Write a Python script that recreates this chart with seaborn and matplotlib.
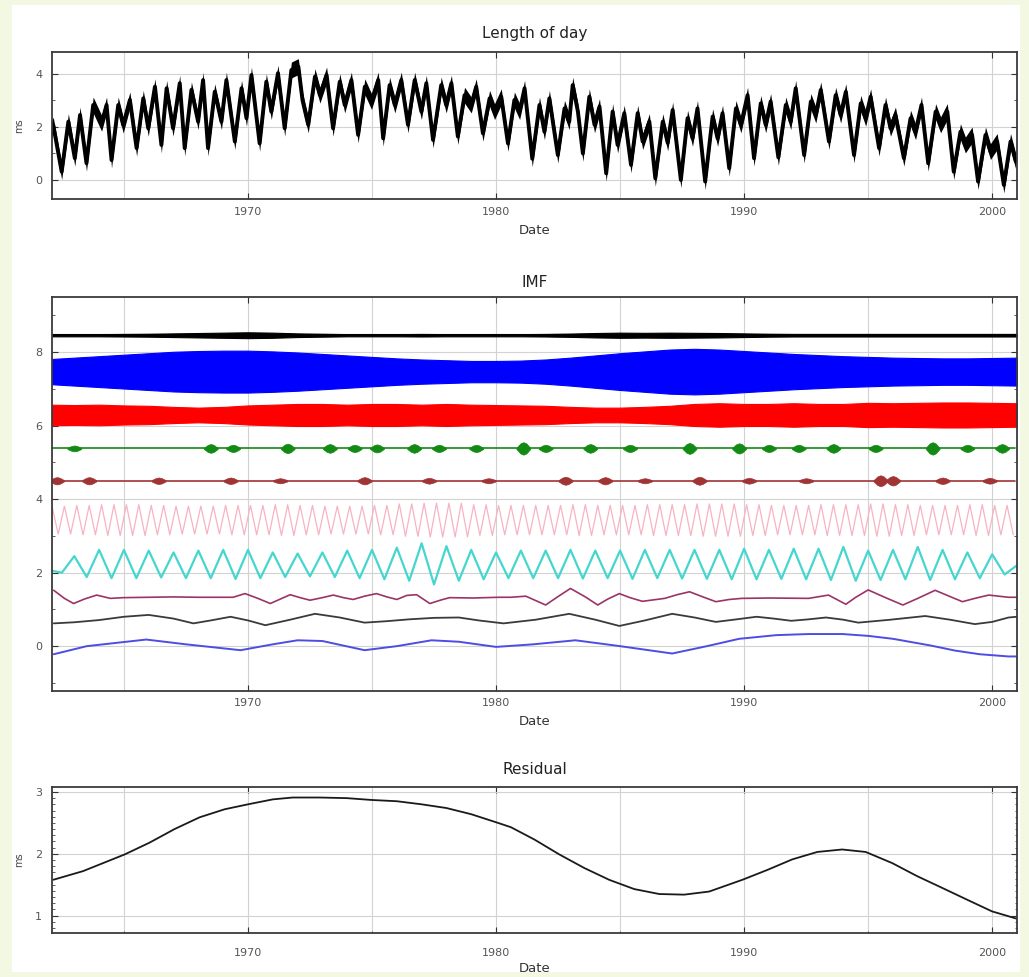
import numpy as np
import pandas as pd
import matplotlib
matplotlib.use("Agg")
import matplotlib.pyplot as plt
import seaborn as sns
from matplotlib.patches import Rectangle
from matplotlib.ticker import FixedLocator, MultipleLocator

# ---------------- data ----------------
lod_year = [1961.95, 1962.15, 1962.49, 1962.76, 1963.02, 1963.23, 1963.49, 1963.76, 1964.10, 1964.30,
            1964.50, 1964.77, 1964.97, 1965.24, 1965.51, 1965.78, 1965.98, 1966.25, 1966.51, 1966.72,
            1966.98, 1967.25, 1967.45, 1967.72, 1967.99, 1968.19, 1968.39, 1968.66, 1968.93, 1969.13,
            1969.47, 1969.74, 1969.94, 1970.14, 1970.47, 1970.74, 1970.94, 1971.21, 1971.48, 1971.75,
            1972.03, 1972.20, 1972.43, 1972.70, 1972.90, 1973.17, 1973.43, 1973.70, 1973.90, 1974.17,
            1974.44, 1974.71, 1974.98, 1975.25, 1975.45, 1975.71, 1975.92, 1976.18, 1976.45, 1976.72,
            1976.99, 1977.19, 1977.46, 1977.79, 1977.99, 1978.20, 1978.46, 1978.73, 1979.00, 1979.20,
            1979.47, 1979.74, 1979.94, 1980.21, 1980.48, 1980.74, 1980.95, 1981.15, 1981.46, 1981.75,
            1981.95, 1982.15, 1982.49, 1982.76, 1982.95, 1983.09, 1983.30, 1983.50, 1983.76, 1983.97,
            1984.17, 1984.44, 1984.70, 1984.90, 1985.17, 1985.44, 1985.71, 1985.91, 1986.18, 1986.42,
            1986.72, 1986.92, 1987.12, 1987.45, 1987.72, 1987.92, 1988.12, 1988.43, 1988.73, 1988.93,
            1989.13, 1989.40, 1989.67, 1989.87, 1990.14, 1990.40, 1990.67, 1990.87, 1991.07, 1991.38,
            1991.68, 1991.88, 1992.08, 1992.42, 1992.69, 1992.89, 1993.09, 1993.42, 1993.69, 1993.89,
            1994.10, 1994.43, 1994.70, 1994.90, 1995.10, 1995.44, 1995.70, 1995.90, 1996.10, 1996.44,
            1996.71, 1996.91, 1997.15, 1997.42, 1997.72, 1997.92, 1998.19, 1998.45, 1998.72, 1998.92,
            1999.19, 1999.43, 1999.73, 1999.93, 2000.20, 2000.47, 2000.74, 2000.95]
lod_ms = [1.60, 2.07, 0.31, 2.20, 0.82, 2.45, 0.63, 2.83, 2.14, 2.83,
          0.75, 2.83, 2.07, 3.02, 1.20, 3.08, 1.95, 3.52, 1.32, 3.46,
          1.95, 3.65, 1.20, 3.40, 2.20, 3.77, 1.20, 3.33, 2.20, 3.77,
          1.45, 3.46, 2.33, 3.96, 1.38, 3.71, 2.58, 4.03, 1.95, 4.15,
          4.28, 3.00, 2.08, 3.90, 3.20, 3.96, 1.95, 3.71, 2.83, 3.77,
          1.70, 3.52, 2.96, 3.77, 1.57, 3.58, 2.83, 3.77, 2.08, 3.77,
          2.58, 3.65, 1.51, 3.58, 2.83, 3.65, 1.64, 3.20, 2.83, 3.52,
          1.76, 3.08, 2.58, 3.14, 1.38, 3.02, 2.58, 3.46, 0.80, 2.83,
          1.82, 3.08, 0.94, 2.70, 2.20, 3.58, 2.58, 1.00, 3.14, 2.08,
          2.77, 0.25, 2.58, 1.32, 2.52, 0.57, 2.52, 1.45, 2.20, 0.06,
          2.20, 1.40, 2.64, 0.00, 2.33, 1.57, 2.70, -0.06, 2.39, 1.57,
          2.52, 0.44, 2.70, 2.08, 3.20, 0.82, 2.89, 2.08, 2.96, 0.85,
          2.83, 2.20, 3.46, 0.94, 2.96, 2.45, 3.40, 1.45, 3.20, 2.45,
          3.33, 0.94, 2.89, 2.33, 3.14, 1.20, 2.83, 1.95, 2.45, 0.82,
          2.33, 1.82, 2.83, 0.63, 2.58, 2.08, 2.58, 0.31, 1.82, 1.32,
          1.70, -0.06, 1.70, 1.07, 1.45, -0.19, 1.45, 0.70]
lod_noise_hw = 0.30   # half-thickness of the day-to-day scatter around the curve

# IMF envelopes (half-widths) read per year 1962..2001
env_year = list(range(1962, 2002))
imf1_center = 8.46
imf1_hw = [0.03, 0.03, 0.03, 0.035, 0.04, 0.05, 0.06, 0.07, 0.08, 0.07,
           0.05, 0.04, 0.03, 0.03, 0.03, 0.035, 0.03, 0.03, 0.03, 0.03,
           0.035, 0.045, 0.06, 0.07, 0.065, 0.07, 0.065, 0.06, 0.05, 0.04,
           0.035, 0.035, 0.035, 0.035, 0.035, 0.035, 0.035, 0.035, 0.035, 0.035]
imf2_center = 7.47
imf2_hw = [0.34, 0.38, 0.42, 0.46, 0.50, 0.54, 0.56, 0.57, 0.57, 0.55,
           0.52, 0.48, 0.44, 0.40, 0.36, 0.33, 0.31, 0.29, 0.29, 0.30,
           0.33, 0.38, 0.44, 0.50, 0.55, 0.60, 0.62, 0.60, 0.56, 0.52,
           0.48, 0.45, 0.42, 0.40, 0.38, 0.37, 0.36, 0.36, 0.37, 0.38]
imf3_center = 6.29
imf3_hw = [0.28, 0.27, 0.28, 0.26, 0.25, 0.22, 0.20, 0.22, 0.26, 0.28,
           0.30, 0.30, 0.28, 0.30, 0.30, 0.28, 0.30, 0.28, 0.27, 0.26,
           0.25, 0.22, 0.20, 0.20, 0.22, 0.25, 0.30, 0.32, 0.30, 0.30,
           0.32, 0.30, 0.30, 0.33, 0.32, 0.33, 0.34, 0.34, 0.33, 0.32]
imf4_center = 5.38
imf4_base_hw = 0.015
imf4_burst_year = [1963.0, 1968.5, 1969.4, 1971.6, 1973.3, 1974.3, 1975.2, 1976.7, 1977.7, 1979.2,
                   1981.1, 1982.0, 1983.8, 1985.4, 1987.8, 1989.8, 1991.0, 1992.2, 1993.6, 1995.3,
                   1997.6, 1999.0, 2000.4]
imf4_burst_hw = [0.08, 0.12, 0.10, 0.13, 0.12, 0.10, 0.11, 0.12, 0.10, 0.10,
                 0.17, 0.10, 0.12, 0.10, 0.15, 0.14, 0.10, 0.10, 0.12, 0.10,
                 0.17, 0.10, 0.12]
imf5_center = 4.50
imf5_base_hw = 0.02
imf5_burst_year = [1962.3, 1963.6, 1966.4, 1969.3, 1971.3, 1974.7, 1977.3, 1979.7, 1982.8, 1984.4,
                   1986.0, 1988.2, 1990.2, 1992.5, 1995.5, 1996.0, 1998.0, 1999.9]
imf5_burst_hw = [0.10, 0.10, 0.09, 0.09, 0.07, 0.10, 0.08, 0.07, 0.11, 0.10,
                 0.07, 0.11, 0.08, 0.07, 0.15, 0.13, 0.09, 0.08]
imf6_center = 3.43
imf6_amp = [0.38, 0.40, 0.42, 0.42, 0.40, 0.38, 0.38, 0.40, 0.40, 0.42,
            0.40, 0.38, 0.38, 0.40, 0.44, 0.46, 0.46, 0.42, 0.40, 0.40,
            0.40, 0.42, 0.40, 0.40, 0.42, 0.42, 0.44, 0.44, 0.42, 0.40,
            0.40, 0.42, 0.42, 0.44, 0.42, 0.40, 0.40, 0.42, 0.40, 0.38]
cyan_peak_year = list(range(1963, 2001))
cyan_peak = [2.45, 2.62, 2.62, 2.60, 2.55, 2.60, 2.62, 2.62, 2.55, 2.52,
             2.55, 2.60, 2.62, 2.68, 2.80, 2.72, 2.62, 2.55, 2.60, 2.60,
             2.62, 2.60, 2.60, 2.62, 2.62, 2.62, 2.62, 2.65, 2.62, 2.65,
             2.65, 2.70, 2.60, 2.62, 2.70, 2.62, 2.55, 2.50]
cyan_trough_year = [y + 0.5 for y in range(1962, 2001)]
cyan_trough = [2.00, 1.88, 1.85, 1.85, 1.87, 1.85, 1.85, 1.83, 1.85, 1.88,
               1.90, 1.88, 1.85, 1.82, 1.78, 1.68, 1.78, 1.82, 1.85, 1.85,
               1.85, 1.84, 1.85, 1.83, 1.85, 1.84, 1.83, 1.82, 1.82, 1.83,
               1.82, 1.80, 1.78, 1.80, 1.82, 1.80, 1.82, 1.85, 1.95]
purple_year = [1962.17, 1962.6, 1962.97, 1963.4, 1963.9, 1964.45, 1964.98, 1966.0, 1967.0, 1968.0,
               1969.4, 1969.88, 1970.4, 1970.9, 1971.3, 1971.7, 1972.1, 1972.5, 1973.0, 1973.44,
               1973.85, 1974.24, 1974.7, 1975.18, 1975.6, 1976.0, 1976.4, 1976.8, 1977.33, 1977.8,
               1978.13, 1979.07, 1980.1, 1980.6, 1981.2, 1981.6, 1982.0, 1982.5, 1983.0, 1983.6,
               1984.1, 1984.5, 1984.97, 1985.4, 1985.9, 1986.8, 1987.3, 1987.8, 1988.3, 1988.86,
               1989.4, 1989.9, 1991.0, 1992.6, 1993.4, 1994.1, 1994.5, 1995.0, 1995.7, 1996.4,
               1997.0, 1997.7, 1998.3, 1998.8, 1999.3, 1999.86, 2000.66, 2001.0]
purple_val = [1.52, 1.30, 1.16, 1.28, 1.39, 1.30, 1.32, 1.33, 1.34, 1.33,
              1.33, 1.43, 1.30, 1.16, 1.28, 1.40, 1.32, 1.25, 1.32, 1.39,
              1.32, 1.27, 1.36, 1.43, 1.34, 1.27, 1.38, 1.40, 1.16, 1.26,
              1.32, 1.31, 1.33, 1.33, 1.36, 1.24, 1.12, 1.35, 1.57, 1.34,
              1.12, 1.28, 1.43, 1.32, 1.22, 1.30, 1.40, 1.48, 1.35, 1.21,
              1.27, 1.30, 1.31, 1.30, 1.39, 1.14, 1.33, 1.53, 1.32, 1.12,
              1.30, 1.52, 1.35, 1.21, 1.30, 1.39, 1.33, 1.33]
gray_year = [1962.17, 1963.0, 1964.0, 1965.0, 1966.0, 1967.0, 1967.8, 1968.5, 1969.3, 1970.0,
             1970.7, 1971.7, 1972.7, 1973.7, 1974.7, 1975.6, 1976.5, 1977.5, 1978.5, 1979.3,
             1980.3, 1981.6, 1982.95, 1984.0, 1984.97, 1986.0, 1987.1, 1988.0, 1988.86, 1989.7,
             1990.5, 1991.2, 1991.9, 1992.6, 1993.3, 1994.0, 1994.6, 1995.9, 1997.3, 1998.3,
             1999.3, 2000.0, 2000.66, 2001.0]
gray_val = [0.62, 0.65, 0.71, 0.80, 0.85, 0.75, 0.62, 0.70, 0.80, 0.70,
            0.57, 0.72, 0.88, 0.78, 0.64, 0.68, 0.73, 0.77, 0.78, 0.70,
            0.62, 0.72, 0.88, 0.72, 0.55, 0.70, 0.88, 0.78, 0.66, 0.73,
            0.80, 0.75, 0.69, 0.73, 0.78, 0.72, 0.64, 0.72, 0.82, 0.72,
            0.60, 0.66, 0.78, 0.80]
blue9_year = [1962.17, 1963.5, 1965.9, 1967.5, 1969.7, 1971.0, 1972.0, 1973.0, 1974.7, 1976.0,
              1977.4, 1978.5, 1980.0, 1981.5, 1983.2, 1985.0, 1987.1, 1988.5, 1989.8, 1991.3,
              1992.6, 1993.96, 1995.0, 1996.0, 1997.5, 1998.5, 1999.5, 2000.66, 2001.0]
blue9_val = [-0.22, 0.00, 0.18, 0.05, -0.11, 0.05, 0.16, 0.14, -0.11, 0.00,
             0.16, 0.12, -0.02, 0.05, 0.16, 0.00, -0.20, 0.00, 0.20, 0.30,
             0.33, 0.33, 0.28, 0.20, 0.02, -0.12, -0.22, -0.28, -0.28]

res_year = [1962.15, 1963.35, 1965.03, 1966.03, 1967.04, 1968.05, 1969.06, 1970.0, 1971.0, 1971.8,
            1972.9, 1973.98, 1975.0, 1976.0, 1977.0, 1978.0, 1979.0, 1980.0, 1980.6, 1981.55,
            1982.55, 1983.56, 1984.56, 1985.57, 1986.58, 1987.58, 1988.59, 1989.93, 1990.94, 1991.94,
            1992.95, 1993.95, 1994.9, 1995.97, 1996.97, 1997.98, 1998.98, 1999.99, 2001.0]
res_ms = [1.58, 1.72, 1.99, 2.18, 2.40, 2.59, 2.72, 2.80, 2.88, 2.91,
          2.91, 2.90, 2.87, 2.85, 2.80, 2.74, 2.64, 2.51, 2.43, 2.23,
          1.99, 1.77, 1.58, 1.43, 1.35, 1.34, 1.39, 1.58, 1.74, 1.91,
          2.03, 2.07, 2.03, 1.85, 1.64, 1.45, 1.26, 1.07, 0.95]

xticks_major = [1970, 1980, 1990, 2000]
xticks_minor = [1965, 1975, 1985, 1995]

# ---------------- figure ----------------
sns.set_theme(style="ticks")
plt.rcParams["font.family"] = ["DejaVu Sans"]

W, H = 1029, 977
fig = plt.figure(figsize=(W / 100, H / 100), dpi=100)
fig.patch.set_facecolor("#f3f8e3")
fig.add_artist(Rectangle((12 / W, 1 - 972 / H), 1008 / W, 967 / H, transform=fig.transFigure,
                         facecolor="white", edgecolor="none", zorder=-10))


def axes_px(left, top, right, bottom):
    return fig.add_axes([left / W, 1 - bottom / H, (right - left) / W, (bottom - top) / H])


ax1 = axes_px(52, 52, 1017, 199)
ax2 = axes_px(52, 297, 1017, 691)
ax3 = axes_px(52, 787, 1017, 933)


def style(ax, ylim, yticks, yminor, xpad):
    ax.set_facecolor("white")
    ax.set_xlim(1962.1, 2001.0)
    ax.set_ylim(*ylim)
    ax.xaxis.set_major_locator(FixedLocator(xticks_major))
    ax.xaxis.set_minor_locator(FixedLocator(xticks_minor))
    ax.yaxis.set_major_locator(FixedLocator(yticks))
    ax.yaxis.set_minor_locator(MultipleLocator(yminor))
    ax.tick_params(which="major", direction="in", length=4, width=0.8, color="#333333",
                   labelcolor="#555555", labelsize=8, top=True, right=True)
    ax.tick_params(which="minor", direction="in", length=2.5, width=0.6, color="#444444",
                   top=False, right=True)
    ax.tick_params(axis="x", which="minor", length=0)
    ax.tick_params(axis="y", pad=7)
    ax.tick_params(axis="x", pad=xpad)
    ax.grid(True, which="major", color="#d2d2d2", lw=0.8)
    ax.grid(True, which="minor", axis="x", color="#d2d2d2", lw=0.8)
    ax.set_axisbelow(True)
    for s in ax.spines.values():
        s.set_visible(True)
        s.set_color("#3a3a3a")
        s.set_linewidth(1.3)


# ---- Length of day ----
lod_arr = np.array(lod_ms)
ax1.fill_between(lod_year, lod_arr - lod_noise_hw, lod_arr + lod_noise_hw, color="black", lw=0)
sns.lineplot(x=lod_year, y=lod_ms, ax=ax1, color="black", lw=2.8, estimator=None, sort=False)
style(ax1, (-0.72, 4.83), [0, 2, 4], 1, 6)
ax1.set_title("Length of day", fontsize=11, pad=10, color="#222222")
ax1.set_xlabel("Date", fontsize=9.5, labelpad=5, color="#333333")
ax1.set_ylabel("ms", fontsize=7, color="#444444")
ax1.yaxis.set_label_coords(-0.029, 0.5)

# ---- IMF ----
ey = np.array(env_year, dtype=float)
for c, hw, col in [(imf1_center, imf1_hw, "black"), (imf2_center, imf2_hw, "#0000ff"),
                   (imf3_center, imf3_hw, "#ff0000")]:
    hw = np.array(hw)
    ax2.fill_between(ey, c - hw, c + hw, color=col, lw=0.8, edgecolor=col)
    sns.lineplot(x=env_year, y=[c] * len(env_year), ax=ax2, color=col, lw=1.5, estimator=None)

for c, bhw, by, bh, col in [(imf4_center, imf4_base_hw, imf4_burst_year, imf4_burst_hw, "#138a13"),
                            (imf5_center, imf5_base_hw, imf5_burst_year, imf5_burst_hw, "#a03434")]:
    sns.lineplot(x=[1962.1, 2000.9], y=[c, c], ax=ax2, color=col, lw=1.2, estimator=None)
    for t, h in zip(by, bh):
        ax2.fill_between([t - 0.28, t - 0.12, t, t + 0.12, t + 0.28],
                         [c - bhw, c - 0.8 * h, c - h, c - 0.8 * h, c - bhw],
                         [c + bhw, c + 0.8 * h, c + h, c + 0.8 * h, c + bhw],
                         color=col, lw=0.5, edgecolor=col)

# pink (semi-annual): alternating extremes every quarter year with the read amplitudes
pk_t, pk_v = [], []
for k in range(156):
    t = 1962.1 + 0.25 * k
    a = imf6_amp[min(int(t) - 1962, len(imf6_amp) - 1)]
    pk_t.append(t)
    pk_v.append(imf6_center + (a if k % 2 == 0 else -a))
sns.lineplot(x=pk_t, y=pk_v, ax=ax2, color="#f7b3c2", lw=0.9, estimator=None, sort=False)

cy_df = pd.DataFrame({"t": [1962.1] + cyan_peak_year + cyan_trough_year + [2001.0],
                      "v": [2.05] + cyan_peak + cyan_trough + [2.2]}).sort_values("t")
sns.lineplot(data=cy_df, x="t", y="v", ax=ax2, color="#45d6cf", lw=1.6, estimator=None, sort=False)
sns.lineplot(x=purple_year, y=purple_val, ax=ax2, color="#9a3468", lw=1.2, estimator=None, sort=False)
sns.lineplot(x=gray_year, y=gray_val, ax=ax2, color="#3a3a3a", lw=1.3, estimator=None, sort=False)
sns.lineplot(x=blue9_year, y=blue9_val, ax=ax2, color="#4d4de3", lw=1.4, estimator=None, sort=False)

style(ax2, (-1.22, 9.5), [0, 2, 4, 6, 8], 1, 5)
ax2.set_title("IMF", fontsize=11, pad=7, color="#222222")
ax2.set_xlabel("Date", fontsize=9.5, labelpad=5, color="#333333")
ax2.set_ylabel("")

# ---- Residual ----
sns.lineplot(x=res_year, y=res_ms, ax=ax3, color="#1a1a1a", lw=1.3, estimator=None, sort=False)
style(ax3, (0.72, 3.08), [1, 2, 3], 0.1, 11)
ax3.tick_params(which="minor", length=1.8)
ax3.set_title("Residual", fontsize=11, pad=9, color="#222222")
ax3.set_xlabel("Date", fontsize=9.5, labelpad=3, color="#333333")
ax3.set_ylabel("ms", fontsize=7, color="#444444")
ax3.yaxis.set_label_coords(-0.029, 0.5)

fig.savefig("out.png", dpi=100, facecolor=fig.get_facecolor())
